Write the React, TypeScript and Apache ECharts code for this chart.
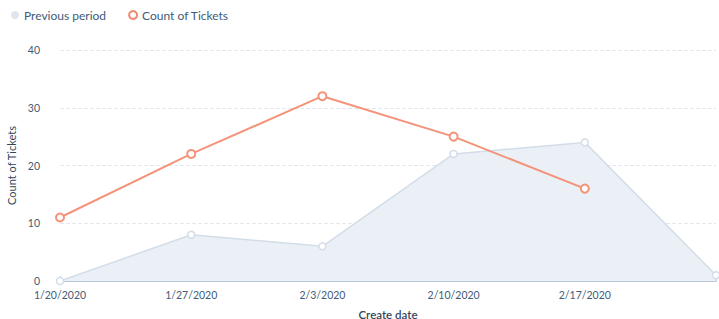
import React, { useEffect, useRef } from "react";
import * as echarts from "echarts";

const categories = ["1/20/2020", "1/27/2020", "2/3/2020", "2/10/2020", "2/17/2020", "2/24/2020"];
const previousPeriod = [0, 8, 6, 22, 24, 1];
const countOfTickets = [11, 22, 32, 25, 16, null];
const yTicks = { min: 0, max: 40, interval: 10 };

export default function App() {
  const ref = useRef<HTMLDivElement>(null);
  useEffect(() => {
    if (!ref.current) return;
    const chart = echarts.init(ref.current, null, { renderer: "svg" });
    const font = "Lato, 'Open Sans', sans-serif";
    chart.setOption({
      animation: false,
      textStyle: { fontFamily: font },
      legend: {
        left: 6,
        top: 4,
        itemWidth: 8,
        itemHeight: 8,
        itemGap: 22,
        textStyle: { fontSize: 12, color: "#425b76", fontFamily: font },
        data: [
          { name: "Previous period", icon: "circle", itemStyle: { color: "#dfe5ec", borderWidth: 0 } },
          { name: "Count of Tickets", icon: "circle", itemStyle: { color: "#fff", borderColor: "#f2896e", borderWidth: 2 } },
        ],
      },
      grid: { left: 60, right: 3, top: 50, bottom: 38, outerBoundsMode: "none", containLabel: false },
      xAxis: {
        type: "category",
        data: categories,
        boundaryGap: false,
        name: "Create date",
        nameLocation: "middle",
        nameGap: 27,
        nameTextStyle: { fontSize: 11.5, color: "#33475b", fontWeight: 600, fontFamily: font },
        axisLine: { lineStyle: { color: "#b9c7d6", width: 1 } },
        axisTick: { show: true, inside: true, length: 5, lineStyle: { color: "#b9c7d6" } },
        axisLabel: {
          fontSize: 10.5,
          color: "#425b76",
          margin: 8,
          formatter: (v: string, i: number) => (i === categories.length - 1 ? "" : v),
        },
        splitLine: { show: false },
      },
      yAxis: {
        type: "value",
        min: yTicks.min,
        max: yTicks.max,
        interval: yTicks.interval,
        name: "Count of Tickets",
        nameLocation: "middle",
        nameGap: 43,
        nameTextStyle: { fontSize: 11, color: "#33475b", fontFamily: font },
        axisLine: { show: false },
        axisTick: { show: false },
        axisLabel: { fontSize: 10.5, color: "#425b76", margin: 20 },
        splitLine: { lineStyle: { color: "#e3e8ee", type: "dashed", width: 1 } },
      },
      series: [
        {
          name: "Previous period",
          type: "line",
          data: previousPeriod,
          symbol: "circle",
          symbolSize: 7,
          showAllSymbol: true,
          lineStyle: { color: "#d3dde8", width: 1.5 },
          itemStyle: { color: "#fff", borderColor: "#d3dde8", borderWidth: 1.5 },
          areaStyle: { color: "#eaf0f6", opacity: 1 },
          z: 1,
        },
        {
          name: "Count of Tickets",
          type: "line",
          data: countOfTickets,
          symbol: "circle",
          symbolSize: 8,
          showAllSymbol: true,
          lineStyle: { color: "#f4937a", width: 2 },
          itemStyle: { color: "#fff", borderColor: "#f4937a", borderWidth: 2 },
          z: 3,
        },
      ],
    });
    return () => chart.dispose();
  }, []);
  return <div ref={ref} style={{ width: 719, height: 319, position: "absolute", left: 0, top: 0 }} />;
}
